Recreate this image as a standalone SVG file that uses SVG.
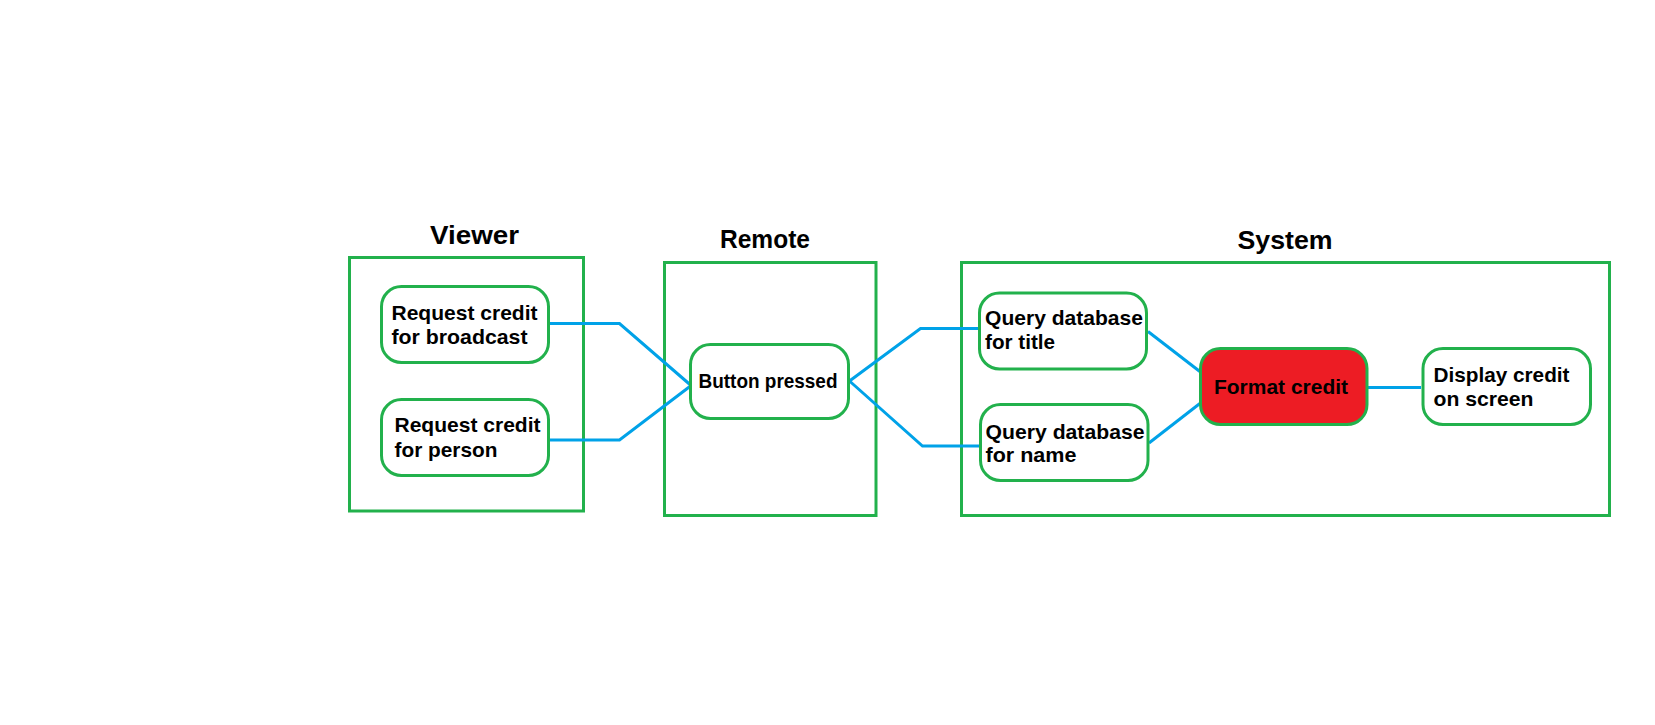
<svg xmlns="http://www.w3.org/2000/svg" width="1655" height="725" viewBox="0 0 1655 725">
<style>
.frame{fill:none;stroke:#22B14C;stroke-width:3}
.node{fill:#fff;stroke:#22B14C;stroke-width:3}
.red{fill:#ED1C24;stroke:#22B14C;stroke-width:3}
.conn{fill:none;stroke:#00A2E8;stroke-width:3}
.t{font-family:"Liberation Sans",Arial,sans-serif;font-weight:bold;font-size:20.5px;fill:#000}
.h{font-family:"Liberation Sans",Arial,sans-serif;font-weight:bold;font-size:26px;fill:#000;text-anchor:middle}
</style>
<rect width="1655" height="725" fill="#fff"/>
<g id="viewer">
<rect class="frame" x="349.5" y="257.5" width="234" height="253.5"/>
<text class="h" x="474.5" y="244" textLength="89" lengthAdjust="spacingAndGlyphs">Viewer</text>
</g>
<g id="remote">
<rect class="frame" x="664.5" y="262.5" width="211.5" height="253"/>
<text class="h" x="765" y="248" font-size="25" textLength="90" lengthAdjust="spacingAndGlyphs">Remote</text>
</g>
<g id="system">
<rect class="frame" x="961.5" y="262.5" width="648" height="253"/>
<text class="h" x="1285" y="249" textLength="95" lengthAdjust="spacingAndGlyphs">System</text>
</g>
<g id="connectors">
<polyline class="conn" points="550,323.5 619.5,323.5 690.5,385"/>
<polyline class="conn" points="549,440 619.5,440 690.5,386"/>
<polyline class="conn" points="849.5,381 920.5,328.5 978.5,328.5"/>
<polyline class="conn" points="849.5,381 922.5,446 980,446"/>
<line class="conn" x1="1148" y1="331.5" x2="1200.5" y2="372"/>
<line class="conn" x1="1149" y1="443" x2="1200.5" y2="403"/>
<line class="conn" x1="1368" y1="387.5" x2="1421" y2="387.5"/>
</g>
<g id="req-broadcast">
<rect class="node" x="381.5" y="286.5" width="167" height="76" rx="20"/>
<text class="t" x="391.5" y="320" textLength="146" lengthAdjust="spacingAndGlyphs">Request credit</text>
<text class="t" x="391.5" y="344" textLength="136" lengthAdjust="spacingAndGlyphs">for broadcast</text>
</g>
<g id="req-person">
<rect class="node" x="381.5" y="399.5" width="167" height="76" rx="20"/>
<text class="t" x="394.5" y="432" textLength="146" lengthAdjust="spacingAndGlyphs">Request credit</text>
<text class="t" x="394.5" y="457" textLength="103" lengthAdjust="spacingAndGlyphs">for person</text>
</g>
<g id="button-pressed">
<rect class="node" x="690.5" y="344.5" width="158" height="74" rx="20"/>
<text class="t" x="698.5" y="388" font-size="19" textLength="139" lengthAdjust="spacingAndGlyphs">Button pressed</text>
</g>
<g id="query-title">
<rect class="node" x="979.5" y="293" width="167" height="76" rx="20"/>
<text class="t" x="985" y="325" font-size="21" textLength="158" lengthAdjust="spacingAndGlyphs">Query database</text>
<text class="t" x="985" y="349" font-size="21" textLength="70" lengthAdjust="spacingAndGlyphs">for title</text>
</g>
<g id="query-name">
<rect class="node" x="980.5" y="404.5" width="167.5" height="76" rx="20"/>
<text class="t" x="985.5" y="438.5" font-size="21" textLength="159" lengthAdjust="spacingAndGlyphs">Query database</text>
<text class="t" x="985.5" y="462" font-size="21" textLength="91" lengthAdjust="spacingAndGlyphs">for name</text>
</g>
<g id="format-credit">
<rect class="red" x="1200.5" y="348.5" width="166.5" height="76" rx="20"/>
<text class="t" x="1281" y="393.5" text-anchor="middle" textLength="134" lengthAdjust="spacingAndGlyphs">Format credit</text>
</g>
<g id="display-credit">
<rect class="node" x="1423" y="348.5" width="167.5" height="76" rx="20"/>
<text class="t" x="1433.5" y="381.5" textLength="136" lengthAdjust="spacingAndGlyphs">Display credit</text>
<text class="t" x="1433.5" y="405.5" textLength="100" lengthAdjust="spacingAndGlyphs">on screen</text>
</g>
</svg>
